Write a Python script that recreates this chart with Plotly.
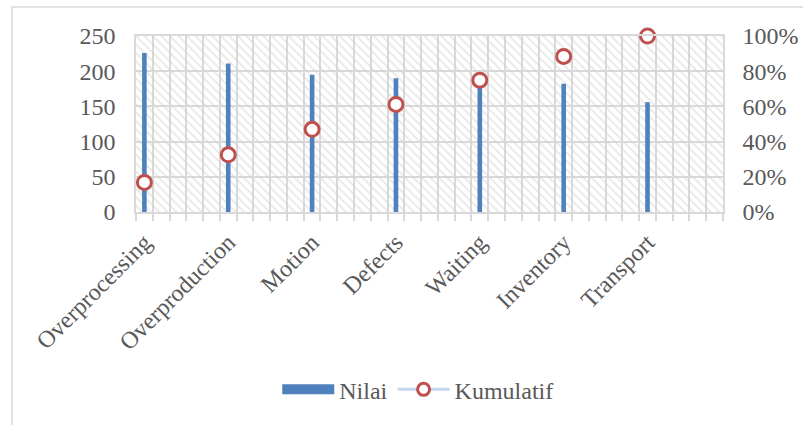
import plotly.graph_objects as go

categories = ["Overprocessing", "Overproduction", "Motion", "Defects", "Waiting", "Inventory", "Transport"]
nilai = [226, 211, 195, 190, 185, 182, 156]
kumulatif = [0.168, 0.325, 0.470, 0.611, 0.749, 0.884, 1.00]
y_ticks = [0, 50, 100, 150, 200, 250]
pct_ticks = [0, 0.2, 0.4, 0.6, 0.8, 1.0]

pos = list(range(len(categories)))
FONT = "Liberation Serif"
FS = 24
GRID = "#d9d9d9"
TXT = "#595959"
BLUE = "#4F81BD"
RED = "#C0504D"

fig = go.Figure()

# hatched plot-area background
fig.add_trace(go.Bar(
    x=[3.4], y=[250], width=[7.0], base=0,
    marker=dict(color="rgba(0,0,0,0)", line=dict(width=0),
                pattern=dict(shape="\\", fgcolor="#d0d0d0", bgcolor="rgba(0,0,0,0)",
                             size=6, solidity=0.3)),
    showlegend=False, hoverinfo="skip",
))

fig.add_trace(go.Bar(
    x=pos, y=nilai, width=0.055, marker=dict(color=BLUE, line=dict(width=0)),
    name="Nilai", showlegend=False,
))

fig.add_trace(go.Scatter(
    x=pos, y=kumulatif, yaxis="y2", mode="markers",
    marker=dict(size=14, color="white", line=dict(color=RED, width=3)),
    name="Kumulatif", showlegend=False, cliponaxis=False,
))

# legend entries
fig.add_trace(go.Scatter(
    x=[None], y=[None], mode="lines", line=dict(color=BLUE, width=12),
    name="Nilai", showlegend=True,
))
fig.add_trace(go.Scatter(
    x=[None], y=[None], mode="lines+markers", yaxis="y2",
    line=dict(color="#c6d6ea", width=3),
    marker=dict(size=12, color="white", line=dict(color=RED, width=3)),
    name="Kumulatif", showlegend=True,
))

fig.update_layout(
    width=803, height=425,
    margin=dict(l=136, r=80, t=36, b=213, autoexpand=False),
    paper_bgcolor="white", plot_bgcolor="white",
    barmode="overlay",
    font=dict(family=FONT, size=FS, color=TXT),
    xaxis=dict(
        range=[-0.1, 6.9], tickmode="array", tickvals=pos, ticktext=categories,
        tickangle=-45, showgrid=False, zeroline=False,
        showline=True, linecolor=GRID, linewidth=1.5, mirror=True,
        ticks="", ticklabelstandoff=5,
        minor=dict(tickmode="linear", tick0=-0.1, dtick=0.2, showgrid=True,
                   gridcolor=GRID, gridwidth=1.5, ticks="outside", ticklen=7,
                   tickcolor=GRID, tickwidth=1.5),
        tickfont=dict(family=FONT, size=FS, color=TXT),
    ),
    yaxis=dict(
        range=[0, 250], tickvals=y_ticks, showgrid=True, gridcolor=GRID, gridwidth=1.5,
        zeroline=False, showline=True, linecolor=GRID, linewidth=1.5,
        ticks="", ticklabelstandoff=14,
        tickfont=dict(family=FONT, size=FS, color=TXT),
    ),
    yaxis2=dict(
        range=[0, 1], tickvals=pct_ticks, tickformat=".0%", overlaying="y", side="right",
        showgrid=False, zeroline=False, showline=True, linecolor=GRID, linewidth=1.5,
        ticks="", ticklabelstandoff=13,
        tickfont=dict(family=FONT, size=FS, color=TXT),
    ),
    legend=dict(
        orientation="h", x=0.48, xanchor="center", y=-1.01, yanchor="middle",
        font=dict(family=FONT, size=FS, color=TXT), itemwidth=52,
        bgcolor="rgba(0,0,0,0)",
    ),
    shapes=[dict(type="rect", xref="paper", yref="paper",
                 x0=-0.2113, x1=1.3, y0=-1.3, y1=1.165,
                 line=dict(color=GRID, width=1.5), fillcolor="rgba(0,0,0,0)", layer="below")],
)

fig.write_html("out.html", config={"displayModeBar": False},
               post_script="document.body.style.margin='0px';")
